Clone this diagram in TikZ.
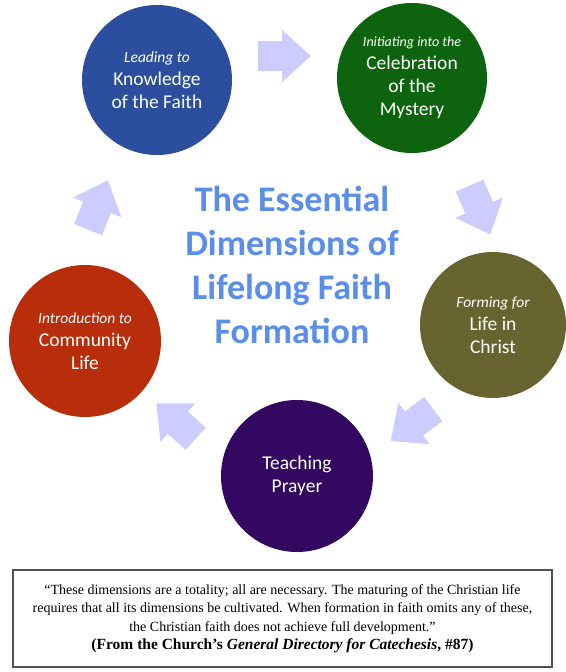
\documentclass[tikz,border=0pt]{standalone}
\usepackage{fontspec}
\setmainfont{Liberation Serif}
\newfontfamily\calib{Carlito}
\definecolor{leadblue}{RGB}{44,78,158}
\definecolor{initgreen}{RGB}{14,100,14}
\definecolor{formolive}{RGB}{104,100,48}
\definecolor{prayviolet}{RGB}{50,8,96}
\definecolor{commred}{RGB}{184,46,10}
\definecolor{arrowlav}{RGB}{204,204,255}
\definecolor{headblue}{RGB}{90,142,232}
\definecolor{boxgray}{RGB}{80,80,80}
\begin{document}
\begin{tikzpicture}[x=1pt,y=-1pt]
  \tikzstyle{dimension}=[circle,inner sep=0pt,minimum size=150pt,text=white,align=center,font=\calib\fontsize{19.5}{23}\selectfont]
  \tikzstyle{headline}=[align=center,text=headblue,font=\calib\bfseries\fontsize{36}{44}\selectfont]
  \tikzstyle{quotebox}=[draw=boxgray,line width=1.5pt,minimum width=539pt,minimum height=97pt,align=center,font=\fontsize{14}{18.5}\selectfont]
  \tikzset{flowarrow/.pic={
    \fill[arrowlav] (-26.5,-15) -- (-2.5,-15) -- (-2.5,-26) -- (26.5,0)
      -- (-2.5,26) -- (-2.5,15) -- (-26.5,15) -- cycle;}}
  \def\it#1{{\itshape\fontsize{15.5}{17}\selectfont #1}}
  \useasboundingbox[fill=white] (0,0) rectangle (565,672);
  % the five dimensions
  \node[dimension,fill=leadblue] (know) at (157,80) {\it{Leading to}\\Knowledge\\of the Faith};
  \node[dimension,fill=initgreen] (celeb) at (412,78) {{\itshape\fontsize{14}{17}\selectfont Initiating into the}\\Celebration\\of the\\Mystery};
  \node[dimension,fill=formolive,minimum size=146pt] (christ) at (493,325) {\it{Forming for}\\Life in\\Christ};
  \node[dimension,fill=prayviolet,minimum size=152pt] (prayer) at (297,476) {Teaching\\Prayer};
  \node[dimension,fill=commred,minimum size=152pt] (commun) at (85,341) {\it{Introduction to}\\Community\\Life};
  \node[headline] (head) at (292,265) {The Essential\\Dimensions of\\Lifelong Faith\\Formation};
  % arrows round the ring
  \pic at (284.5,56) {flowarrow};
  \pic[rotate=-67] at (480,210) {flowarrow};
  \pic[rotate=-143] at (412,425) {flowarrow};
  \pic[rotate=-222] at (176,421) {flowarrow};
  \pic[rotate=-292] at (98,205) {flowarrow};
  % quotation
  \node[quotebox] (cite) at (282.5,618.5) {“These dimensions are a totality; all are necessary. The maturing of the Christian life\\
    requires that all its dimensions be cultivated. When formation in faith omits any of these,\\
    the Christian faith does not achieve full development.”\\
    \textbf{\fontsize{15.5}{18.5}\selectfont (From the Church’s \textit{General Directory for Catechesis}, \#87)}};
\end{tikzpicture}
\end{document}
